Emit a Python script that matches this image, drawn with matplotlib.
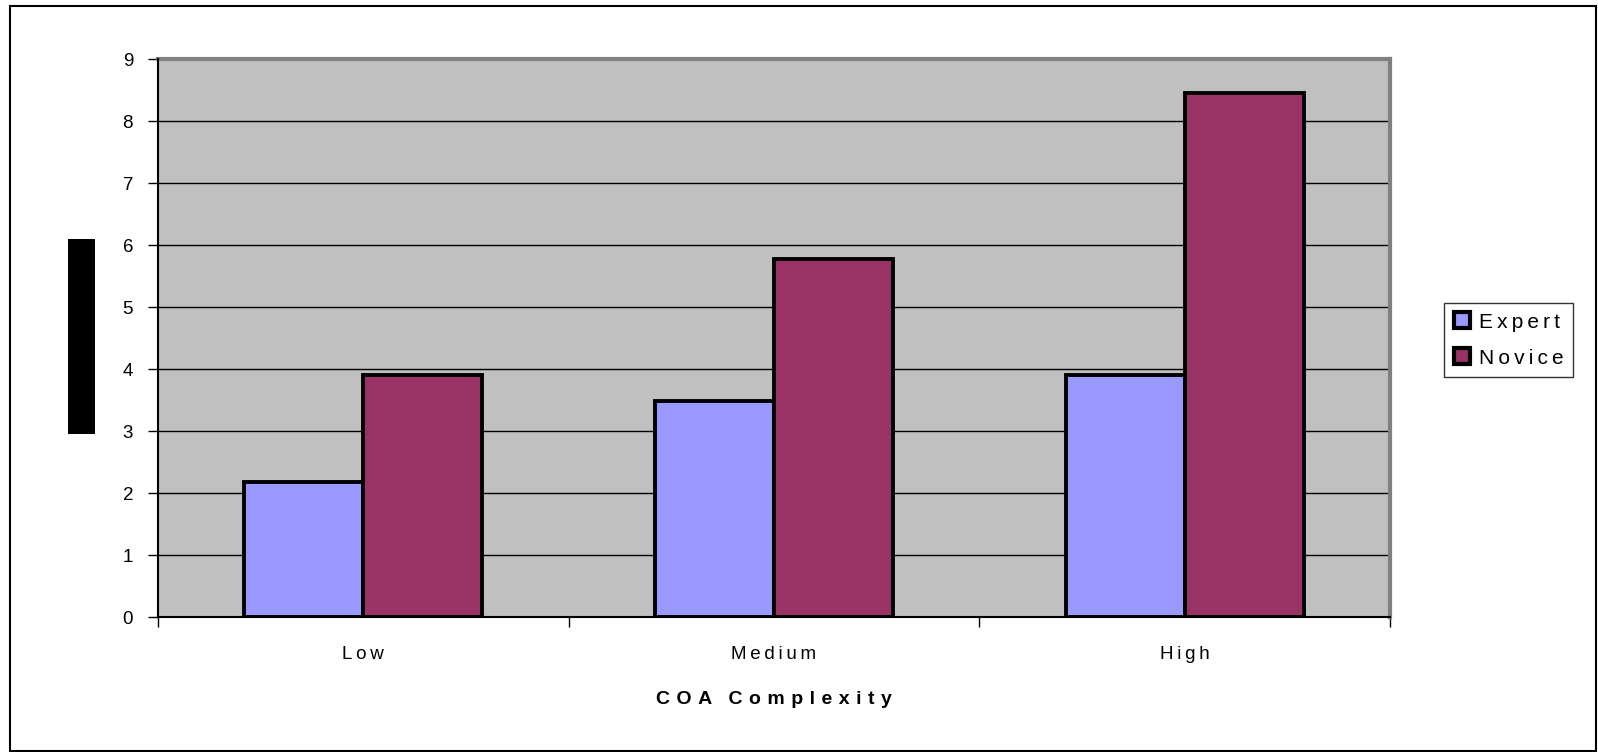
import matplotlib
matplotlib.use("Agg")
import matplotlib.pyplot as plt
from matplotlib.patches import Rectangle, Patch
import numpy as np

categories = ["Low", "Medium", "High"]
series_names = ["Expert", "Novice"]
expert = [2.17, 3.49, 3.91]
novice = [3.91, 5.77, 8.45]
yticks = list(range(0, 10))

colors = ["#9999FF", "#993366"]
FONT = ["Liberation Sans", "DejaVu Sans"]
plt.rcParams['font.family'] = FONT

def track(s, sp="\u2009"):
    return sp.join(list(s))

W, H = 1598, 752
fig = plt.figure(figsize=(W / 100, H / 100), dpi=100)
ax = fig.add_axes([158 / W, 1 - 617 / H, (1390 - 158) / W, (617 - 59) / H])
ax.set_facecolor("#C0C0C0")

x = np.arange(len(categories))
w = 0.29
ax.bar(x - w / 2, expert, w, color=colors[0], edgecolor="black", linewidth=2.8, zorder=3)
ax.bar(x + w / 2, novice, w, color=colors[1], edgecolor="black", linewidth=2.8, zorder=3)

ax.set_xlim(-0.5, 2.5)
ax.set_ylim(0, 9)
ax.set_yticks(yticks)
ax.set_yticklabels([str(v) for v in yticks], fontsize=13.5)
ax.yaxis.grid(True, color="black", linewidth=1.0, zorder=1)
ax.set_axisbelow(True)

ax.set_xticks(x)
ax.set_xticklabels([track(c) for c in categories], fontsize=13.5)
ax.set_xticks([-0.5, 0.5, 1.5, 2.5], minor=True)
ax.tick_params(axis="x", which="major", length=0, pad=21)
ax.tick_params(axis="x", which="minor", length=7, width=1, direction="out")
ax.tick_params(axis="y", which="major", length=7, width=1, direction="out", pad=11)

for s in ["top", "right"]:
    ax.spines[s].set_color("#808080")
    ax.spines[s].set_linewidth(3)
for s in ["left", "bottom"]:
    ax.spines[s].set_color("black")
    ax.spines[s].set_linewidth(1.5)
    ax.spines[s].set_zorder(4)

ax.set_xlabel(track("COA", "\u2004") + "\u2002\u2004" + track("Complexity", "\u2004"),
              fontsize=14, fontweight="bold", labelpad=20)

# redaction block over y label
fig.patches.append(Rectangle((68 / W, 1 - 434 / H), 27 / W, 195 / H, transform=fig.transFigure,
                             facecolor="black", edgecolor="none"))
# outer frame
fig.patches.append(Rectangle((9.5 / W, 1 - 751 / H), (1596 - 9.5) / W, (751 - 5.5) / H,
                             transform=fig.transFigure, facecolor="none", edgecolor="black", linewidth=1.5))

handles = [Patch(facecolor=colors[i], edgecolor="black", linewidth=3) for i in range(2)]
leg = fig.legend(handles, [track(n) for n in series_names], loc="center",
                 bbox_to_anchor=((1438 + 1579) / 2 / W, 1 - 340 / H),
                 fontsize=15, frameon=True, fancybox=False, handlelength=0.8, handleheight=0.8,
                 handletextpad=0.4, labelspacing=0.8, borderpad=0.45, borderaxespad=0)
leg.get_frame().set_edgecolor("black")
leg.get_frame().set_linewidth(1.0)

fig.savefig("out.png", dpi=100)
